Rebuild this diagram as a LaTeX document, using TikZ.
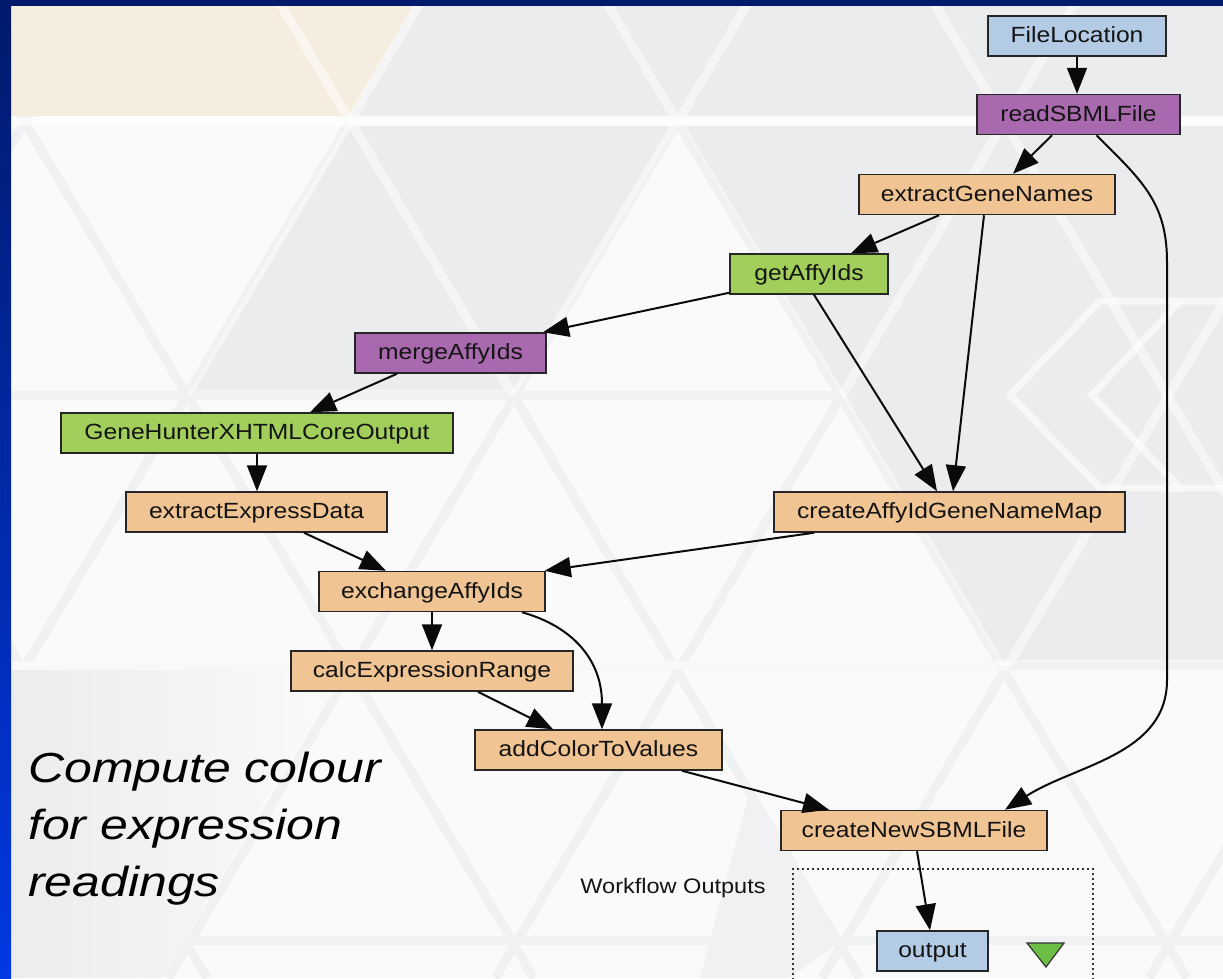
\documentclass[tikz,border=0pt]{standalone}
\usepackage{fontspec}
\setmainfont{Liberation Sans}
\newfontfamily\nodefont[FakeStretch=1.12]{Liberation Sans}
\newfontfamily\capfont[FakeStretch=1.19]{Liberation Sans}
\usetikzlibrary{arrows.meta}

\definecolor{frameTop}{HTML}{001A6B}
\definecolor{frameBot}{HTML}{0038E2}
\definecolor{bgWhite}{HTML}{FAFAFB}
\definecolor{bgGrey}{HTML}{EBECEE}
\definecolor{bgBeige}{HTML}{F5EDE0}
\definecolor{latticeGrey}{HTML}{F0F1F2}
\definecolor{inputBlue}{HTML}{B4CBE6}
\definecolor{procPurple}{HTML}{A869AE}
\definecolor{beanOrange}{HTML}{F0C493}
\definecolor{wsGreen}{HTML}{A2CF5B}
\definecolor{triGreen}{HTML}{6DBE45}
\definecolor{edgeBlack}{HTML}{0A0A0A}

\tikzset{
  box/.style={draw=black!85, line width=1.5pt, inner sep=0pt,
    minimum height=40pt, text height=17.5pt, text depth=4pt,
    font=\nodefont\fontsize{22}{26}\selectfont, text=black!92},
  inbox/.style={box, fill=inputBlue},
  purplebox/.style={box, fill=procPurple},
  orangebox/.style={box, fill=beanOrange},
  greenbox/.style={box, fill=wsGreen},
  flow/.style={draw=edgeBlack, line width=2pt,
    -{Triangle[length=26pt,width=20pt]}},
  latline/.style={line width=9pt},
}

\begin{document}
\begin{tikzpicture}[x=1pt,y=-1pt]
\useasboundingbox (0,0) rectangle (1223,978);

% ---------- slide background: a faint triangle lattice ----------
\fill[bgWhite] (0,0) rectangle (1223,978);
\begin{scope}
  \clip (11,6) rectangle (1223,978);
  \foreach \c in {97,422,750,1077,1404,1731}
    \draw[latline, latticeGrey] (\c,0) -- ({\c-0.595*978},978);
  \foreach \c in {-702,-375,-48,278,605,932}
    \draw[latline, latticeGrey] (\c,0) -- ({\c+0.595*978},978);
  \foreach \y in {395,665,940}
    \draw[latline, latticeGrey] (11,\y) -- (1223,\y);
\end{scope}
% grey panels
\fill[bgGrey] (11,6) rectangle (1223,116);
\fill[bgGrey] (350,126) -- (677,126) -- (515,390) -- (190,390) -- cycle;
\fill[bgGrey] (683,126) -- (1223,126) -- (1223,660) -- (998,660) -- cycle;
\shade[left color=bgGrey, right color=bgWhite]
  (11,670) -- (340,670) -- (187,935) -- (162,978) -- (11,978) -- cycle;
\fill[bgGrey!60!bgWhite] (750,790) -- (842,940) -- (790,978) -- (700,978) -- cycle;
\fill[bgBeige] (11,6) -- (413,6) -- (350,116) -- (11,116) -- cycle;
% light lattice lines across the grey panels
\begin{scope}
  \clip (11,6) rectangle (1223,121)
        (350,121) -- (680,121) -- (515,395) -- (187,395) -- cycle
        (680,121) -- (1223,121) -- (1223,665) -- (1001,665) -- cycle;
  \foreach \c in {422,750,1077,1404,1731}
    \draw[latline, white, opacity=0.5] (\c,0) -- ({\c-0.595*978},978);
  \foreach \c in {278,605,932,1259}
    \draw[latline, white, opacity=0.5] (\c,0) -- ({\c+0.595*978},978);
\end{scope}
\draw[latline, white, opacity=0.6] (11,121) -- (1223,121);
\draw[latline, white, opacity=0.5] (11,665) -- (1010,665);
% chevrons on the right
\draw[white, line width=7pt, opacity=0.6]
  (1223,301) -- (1100,301) -- (1010,395) -- (1100,488) -- (1223,488);
\draw[white, line width=7pt, opacity=0.6] (1180,301) -- (1092,395) -- (1180,488);

% frame
\shade[top color=frameTop, bottom color=frameBot] (0,0) rectangle (11,978);
\fill[frameTop] (0,0) rectangle (1223,6);

% ---------- workflow output port area ----------
\draw[black!80, line width=1.4pt, dash pattern=on 2pt off 3pt]
  (793,985) -- (793,869) -- (1093,869) -- (1093,985);
\node[font=\nodefont\fontsize{21}{24}\selectfont, text=black!92] (wflabel) at (673,888) {Workflow Outputs};

% ---------- processors ----------
\node[inbox, minimum width=178pt] (fl) at (1077,36) {FileLocation};
\node[purplebox, minimum width=203pt] (rs) at (1078.5,114.5) {readSBMLFile};
\node[orangebox, minimum width=256pt] (gn) at (987,194.5) {extractGeneNames};
\node[greenbox, minimum width=158pt] (ga) at (809,274) {getAffyIds};
\node[purplebox, minimum width=191pt] (ma) at (450.5,353) {mergeAffyIds};
\node[greenbox, minimum width=392pt] (gh) at (257,433) {GeneHunterXHTMLCoreOutput};
\node[orangebox, minimum width=261pt] (ee) at (256.5,512) {extractExpressData};
\node[orangebox, minimum width=351pt] (cm) at (949.5,512) {createAffyIdGeneNameMap};
\node[orangebox, minimum width=226pt] (xa) at (432,591.5) {exchangeAffyIds};
\node[orangebox, minimum width=282pt] (cr) at (432,671) {calcExpressionRange};
\node[orangebox, minimum width=247pt] (ac) at (598.5,750) {addColorToValues};
\node[orangebox, minimum width=266pt] (cn) at (914,830.5) {createNewSBMLFile};
\node[inbox, minimum width=111pt] (op) at (932.5,951) {output};

\draw[fill=triGreen, draw=black!80, line width=1.2pt]
  (1027,943) -- (1064,943) -- (1046,967) -- cycle;

% ---------- data links ----------
\coordinate (railtop) at (1167,262);
\coordinate (railbot) at (1167,680);

\draw[flow] (fl.south) -- (fl.south |- rs.north);
\draw[flow] ([xshift=-26.5pt]rs.south) -- ([xshift=26pt]gn.north);
\draw[flow] ([xshift=18pt]rs.south) .. controls +(45,45) and +(0,-60) .. (railtop)
  -- (railbot) .. controls +(0,75) and +(70,-45) .. ([xshift=91pt]cn.north);
\draw[flow] ([xshift=-48pt]gn.south) -- ([xshift=42pt]ga.north);
\draw[flow] ([xshift=-3pt]gn.south) -- ([xshift=3.5pt]cm.north);
\draw[flow] ([yshift=2pt]ga.south west) -- ([xshift=92.5pt]ma.north);
\draw[flow] ([xshift=5pt]ga.south) -- ([xshift=-12.5pt]cm.north);
\draw[flow] ([xshift=-53.5pt]ma.south) -- ([xshift=53pt]gh.north);
\draw[flow] (gh.south) -- (gh.south |- ee.north);
\draw[flow] ([xshift=47.5pt]ee.south) -- ([xshift=-46pt]xa.north);
\draw[flow] ([xshift=-135.5pt]cm.south) -- ([xshift=-1pt]xa.north east);
\draw[flow] (xa.south) -- (xa.south |- cr.north);
\draw[flow] ([xshift=90pt]xa.south) .. controls +(50,14) and +(0,-70) .. ([xshift=3.5pt]ac.north);
\draw[flow] ([xshift=46pt]cr.south) -- ([xshift=-45.5pt]ac.north);
\draw[flow] ([xshift=83.5pt]ac.south) -- ([xshift=-85pt]cn.north);
\draw[flow] ([xshift=3pt]cn.south) -- ([xshift=-2.5pt]op.north);

% ---------- caption ----------
\node[anchor=north west, align=left, inner sep=0pt,
  font=\capfont\itshape\fontsize{42}{57}\selectfont] (caption) at (28,752)
  {Compute colour\\for expression\\readings};
\end{tikzpicture}
\end{document}
